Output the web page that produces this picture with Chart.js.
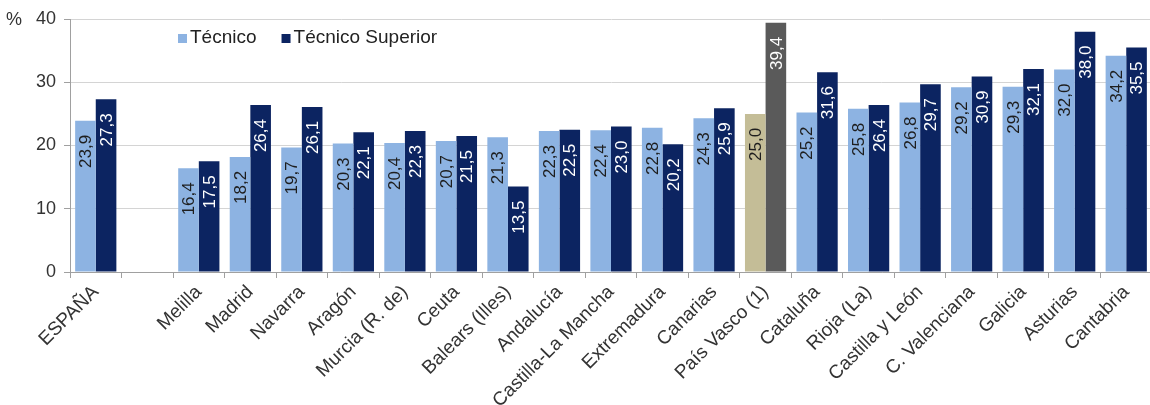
<!DOCTYPE html>
<html lang="es">

<head>
    <meta charset="UTF-8">
    <title>Tasa bruta de titulación</title>
    <script src="https://cdn.jsdelivr.net/npm/chart.js"></script>
    <style>
        html, body {
            margin: 0;
            padding: 0;
            background: #fff;
            overflow: hidden;
        }

        #chart {
            display: block;
        }
    </style>
</head>

<body>
    <canvas id="chart" width="1152" height="405"></canvas>

    <script>
        // Datos
        const comunidades = ['ESPAÑA', '', 'Melilla', 'Madrid', 'Navarra', 'Aragón', 'Murcia (R. de)', 'Ceuta',
            'Balears (Illes)', 'Andalucía', 'Castilla-La Mancha', 'Extremadura', 'Canarias', 'País Vasco (1)',
            'Cataluña', 'Rioja (La)', 'Castilla y León', 'C. Valenciana', 'Galicia', 'Asturias', 'Cantabria'];
        const tecnico = [23.9, null, 16.4, 18.2, 19.7, 20.3, 20.4, 20.7, 21.3, 22.3, 22.4, 22.8, 24.3, 25.0,
            25.2, 25.8, 26.8, 29.2, 29.3, 32.0, 34.2];
        const tecnicoSuperior = [27.3, null, 17.5, 26.4, 26.1, 22.1, 22.3, 21.5, 13.5, 22.5, 23.0, 20.2, 25.9, 39.4,
            31.6, 26.4, 29.7, 30.9, 32.1, 38.0, 35.5];
        const ticksY = [0, 10, 20, 30, 40];
        const series = ['Técnico', 'Técnico Superior'];
        const destacada = 'País Vasco (1)';

        const fuente = '"Liberation Sans", Arial, sans-serif';
        const colores = {
            tecnico: '#8DB3E2',
            superior: '#0C2461',
            tecnicoDest: '#C4BD97',
            superiorDest: '#5A5A5A'
        };

        // Etiquetas de valor verticales en el extremo interior de cada barra
        const etiquetasValor = {
            id: 'etiquetasValor',
            afterDatasetsDraw(chart) {
                const ctx = chart.ctx;
                chart.data.datasets.forEach((ds, i) => {
                    const meta = chart.getDatasetMeta(i);
                    meta.data.forEach((bar, j) => {
                        const v = ds.data[j];
                        if (v === null) return;
                        ctx.save();
                        ctx.translate(bar.x, bar.y + 14);
                        ctx.rotate(-Math.PI / 2);
                        ctx.font = '17px ' + fuente;
                        ctx.textAlign = 'right';
                        ctx.textBaseline = 'middle';
                        ctx.fillStyle = i === 0 ? '#1E1E1E' : '#FFFFFF';
                        ctx.fillText(v.toFixed(1).replace('.', ','), 0, 1);
                        ctx.restore();
                    });
                });
            }
        };

        // Leyenda dentro del área del gráfico y signo %
        const leyenda = {
            id: 'leyenda',
            afterDraw(chart) {
                const ctx = chart.ctx;
                const area = chart.chartArea;
                ctx.save();
                ctx.font = '19px ' + fuente;
                ctx.textBaseline = 'middle';
                ctx.textAlign = 'left';
                let x = area.left + 108;
                const y = area.top + 19;
                chart.data.datasets.forEach((ds, i) => {
                    ctx.fillStyle = i === 0 ? colores.tecnico : colores.superior;
                    ctx.fillRect(x, y - 4, 9, 9);
                    ctx.fillStyle = '#222';
                    ctx.fillText(ds.label, x + 12, y);
                    x += 12 + ctx.measureText(ds.label).width + 25;
                });
                ctx.font = '18px ' + fuente;
                ctx.fillStyle = '#333';
                ctx.fillText('%', 6, area.top + 1);
                ctx.restore();
            }
        };

        const ctx = document.getElementById('chart').getContext('2d');
        new Chart(ctx, {
            type: 'bar',
            data: {
                labels: comunidades,
                datasets: [{
                    label: series[0],
                    data: tecnico,
                    backgroundColor: c => comunidades[c.dataIndex] === destacada ? colores.tecnicoDest : colores.tecnico
                }, {
                    label: series[1],
                    data: tecnicoSuperior,
                    backgroundColor: c => comunidades[c.dataIndex] === destacada ? colores.superiorDest : colores.superior
                }]
            },
            options: {
                responsive: false,
                animation: false,
                devicePixelRatio: 1,
                layout: {
                    padding: { top: 19, left: 0, right: 0, bottom: 0 }
                },
                datasets: {
                    bar: {
                        barPercentage: 1.0,
                        categoryPercentage: 0.8
                    }
                },
                plugins: {
                    legend: { display: false },
                    tooltip: { enabled: false }
                },
                scales: {
                    x: {
                        afterFit: s => { s.height = 133; },
                        border: { color: '#A0A0A0' },
                        grid: {
                            offset: true,
                            drawOnChartArea: false,
                            tickLength: 6,
                            tickColor: '#A0A0A0'
                        },
                        ticks: {
                            autoSkip: false,
                            maxRotation: 45,
                            minRotation: 45,
                            padding: 3,
                            color: '#333',
                            font: { family: fuente, size: 19 }
                        }
                    },
                    y: {
                        min: 0,
                        max: 40,
                        afterFit: s => { s.width = 70; },
                        afterBuildTicks: s => { s.ticks = ticksY.map(v => ({ value: v })); },
                        border: { color: '#A0A0A0' },
                        grid: {
                            color: '#D4D4D4',
                            tickColor: '#A0A0A0',
                            tickLength: 6
                        },
                        ticks: {
                            padding: 8,
                            color: '#333',
                            font: { family: fuente, size: 18 }
                        }
                    }
                }
            },
            plugins: [etiquetasValor, leyenda]
        });
    </script>
</body>

</html>
